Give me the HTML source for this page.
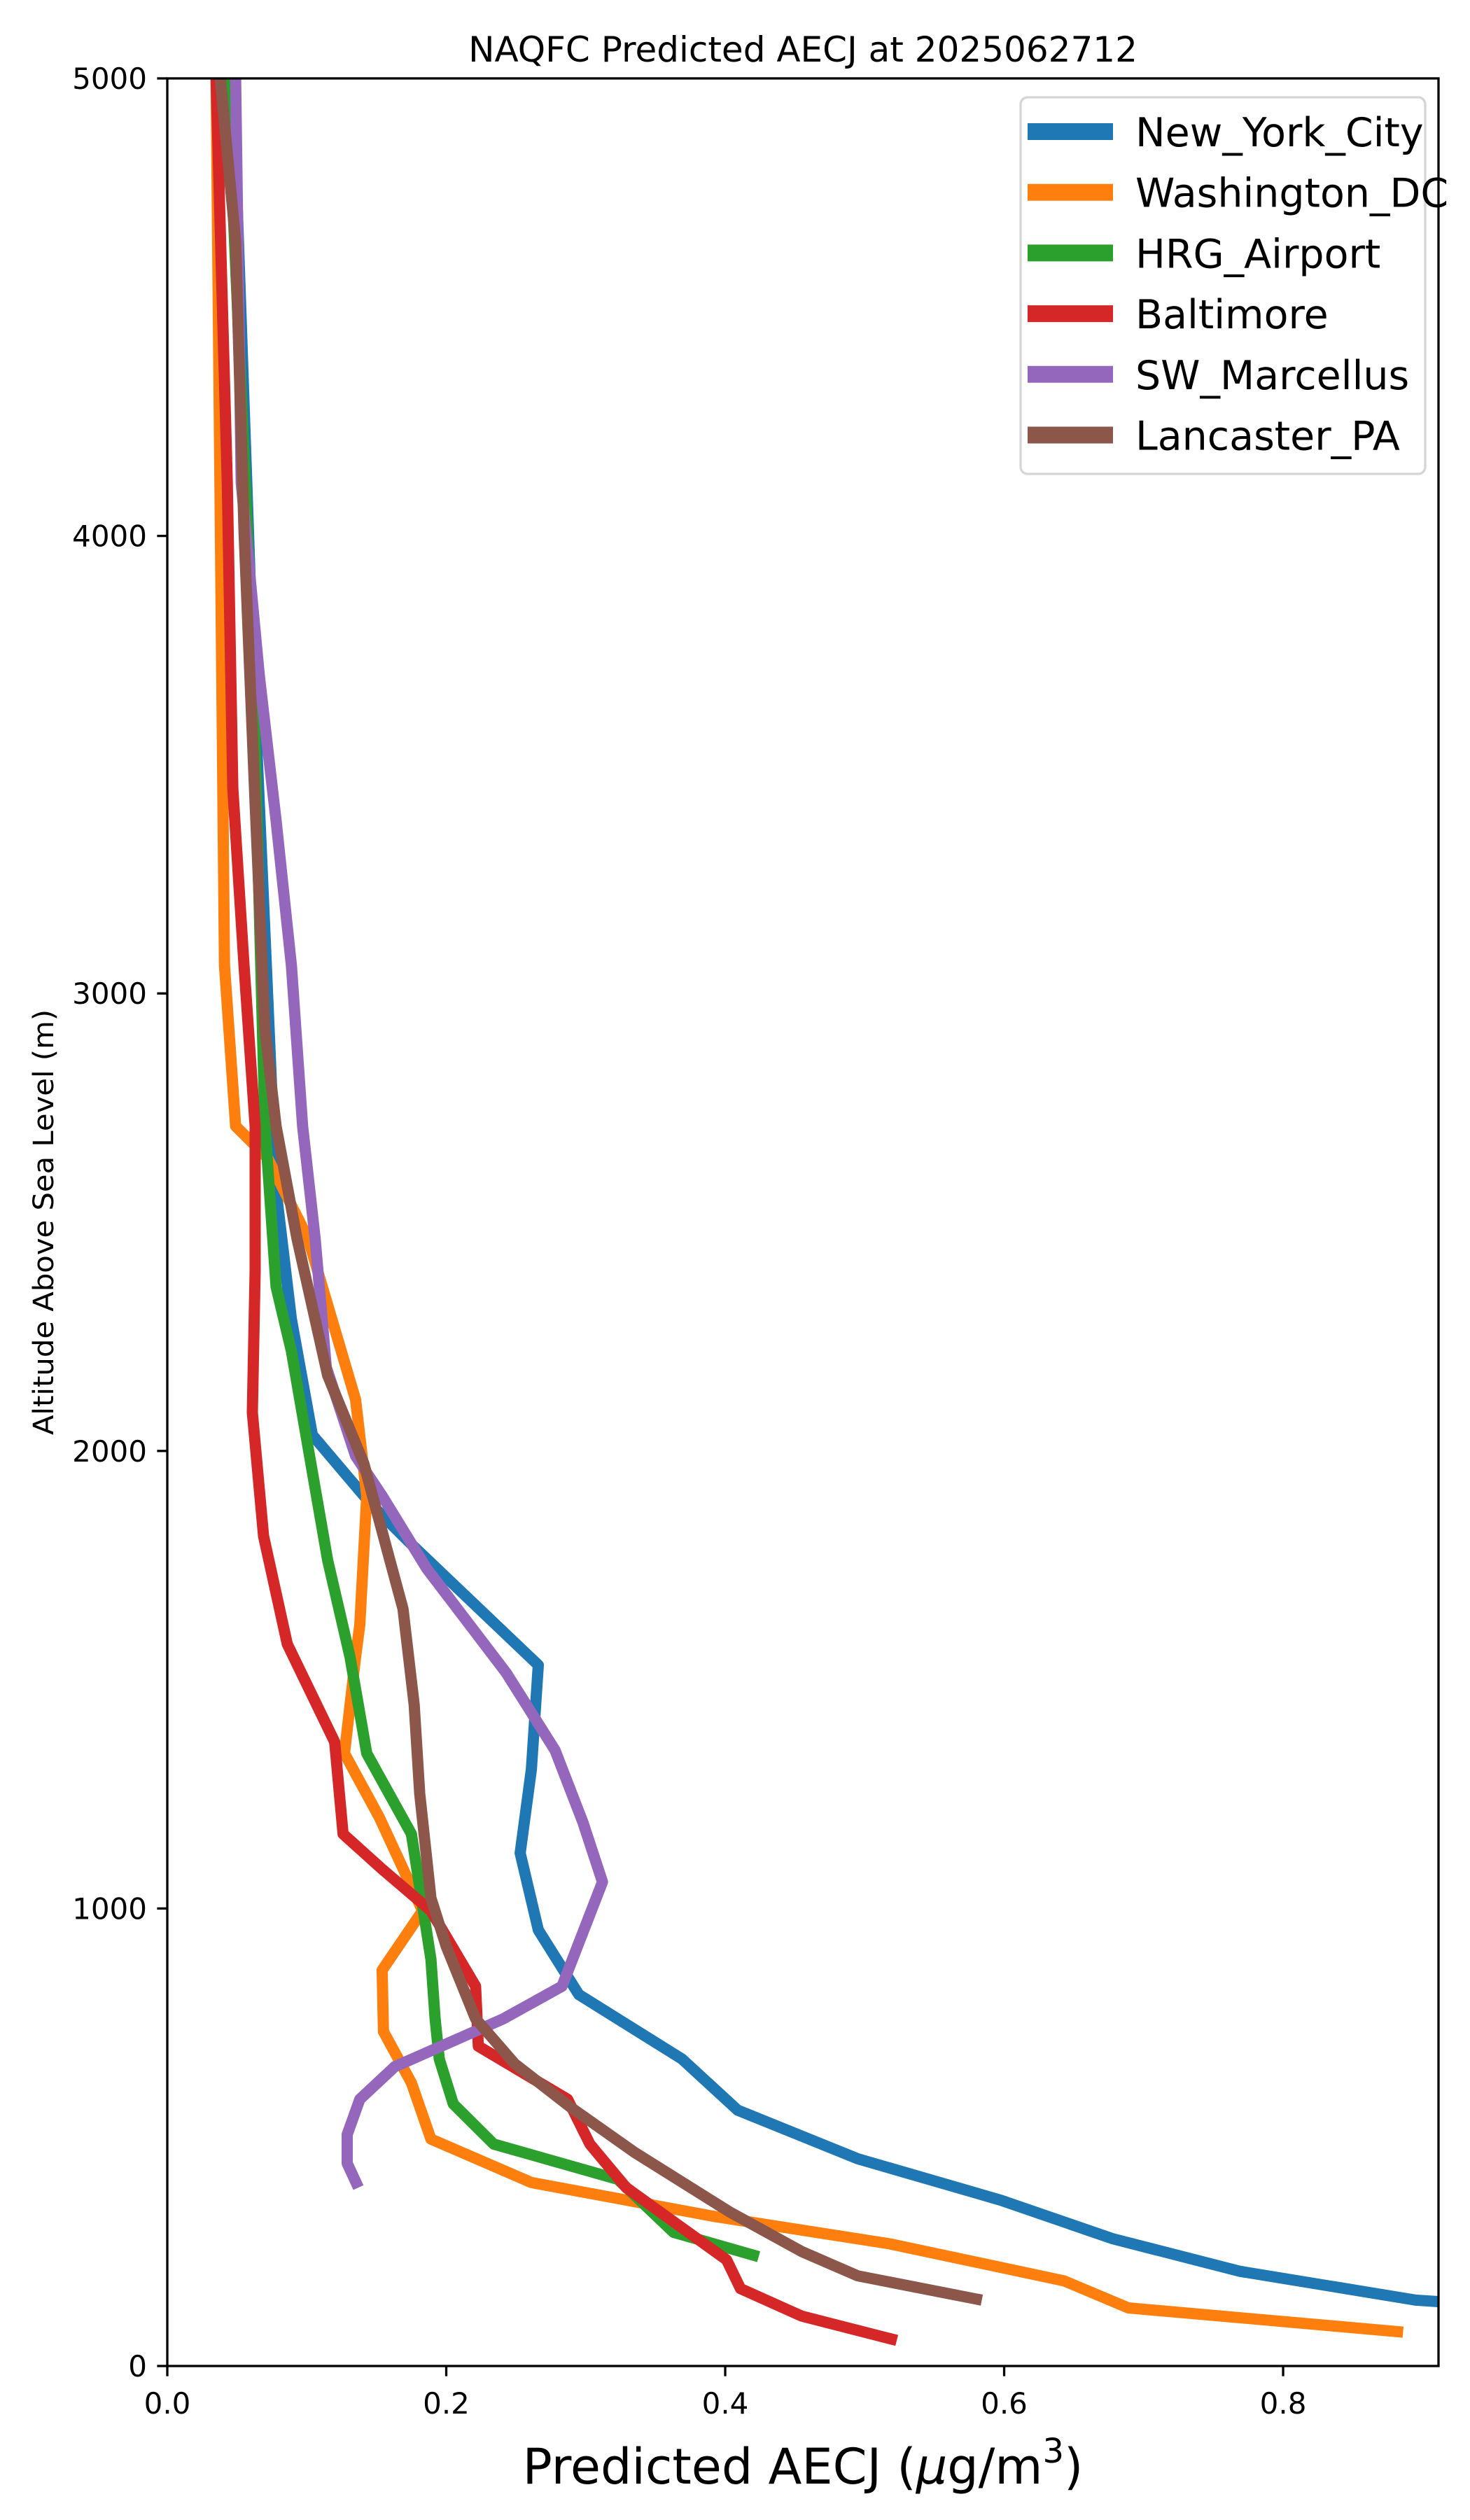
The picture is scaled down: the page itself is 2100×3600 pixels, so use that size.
<!DOCTYPE html>
<html><head><meta charset="utf-8"><style>
html,body{margin:0;padding:0;background:#fff}
svg{display:block;font-family:"DejaVu Sans","Liberation Sans",sans-serif}
</style></head><body>
<svg id="chart" xmlns="http://www.w3.org/2000/svg" width="2100" height="3600" viewBox="0 0 2100 3600">
<rect x="0" y="0" width="2100" height="3600" fill="#fff"/>
<defs><clipPath id="clip"><rect x="239" y="112" width="1816" height="3268"/></clipPath></defs>
<text x="1147" y="88" font-size="50" text-anchor="middle">NAQFC Predicted AECJ at 2025062712</text>
<g id="lines" clip-path="url(#clip)"></g>
<g id="axes"></g>
<text x="1147" y="3548" font-size="70" text-anchor="middle">Predicted AECJ (<tspan font-style="italic">μ</tspan>g/m<tspan font-size="48" dy="-30">3</tspan><tspan dy="30">)</tspan></text>
<text transform="translate(76,1746) rotate(-90)" font-size="40" text-anchor="middle" textLength="608" lengthAdjust="spacingAndGlyphs">Altitude Above Sea Level (m)</text>
<g id="legend"></g>
</svg>
<script>
const names = ["New_York_City","Washington_DC","HRG_Airport","Baltimore","SW_Marcellus","Lancaster_PA"];
const colors = ["#1f77b4","#ff7f0e","#2ca02c","#d62728","#9467bd","#8c564b"];
const xTicks = [0.0,0.2,0.4,0.6,0.8];
const xTickLabels = ["0.0","0.2","0.4","0.6","0.8"];
const yTicks = [0,1000,2000,3000,4000,5000];
const yTickLabels = ["0","1000","2000","3000","4000","5000"];
const nycX = [0.047,0.061,0.072,0.078,0.089,0.104,0.146,0.175,0.266,0.261,0.253,0.266,0.295,0.369,0.409,0.495,0.598,0.678,0.769,0.895,0.93];
const nycY = [5000,3764,2991,2569,2288,2035,1884,1796,1532,1304,1121,953,812,671,559,453,362,278,207,144,137];
const dcX = [0.035,0.041,0.049,0.072,0.101,0.135,0.143,0.138,0.135,0.127,0.152,0.183,0.154,0.155,0.175,0.189,0.261,0.392,0.518,0.643,0.689,0.886];
const dcY = [5000,3061,2710,2640,2464,2112,1902,1620,1550,1339,1199,995,865,731,619,496,401,327,267,186,127,74];
const hrgX = [0.043,0.061,0.070,0.078,0.089,0.101,0.115,0.131,0.143,0.175,0.189,0.192,0.195,0.205,0.234,0.323,0.363,0.424];
const hrgY = [5000,3764,2710,2359,2218,2007,1761,1550,1339,1163,889,759,671,573,485,408,292,239];
const balX = [0.035,0.043,0.047,0.055,0.063,0.063,0.061,0.069,0.086,0.120,0.126,0.154,0.189,0.221,0.223,0.287,0.303,0.329,0.401,0.411,0.455,0.523];
const balY = [5000,4116,3448,3061,2710,2394,2084,1814,1578,1364,1163,1086,995,830,699,583,485,390,232,169,109,56];
const swmX = [0.049,0.053,0.066,0.078,0.089,0.097,0.106,0.114,0.135,0.154,0.186,0.243,0.278,0.298,0.312,0.283,0.241,0.163,0.138,0.129,0.129,0.137];
const swmY = [5000,4116,3694,3378,3061,2710,2464,2183,1989,1902,1743,1515,1346,1188,1058,830,759,654,583,506,443,390];
const lanX = [0.038,0.049,0.055,0.063,0.070,0.078,0.093,0.115,0.141,0.158,0.169,0.177,0.181,0.189,0.200,0.221,0.249,0.289,0.335,0.403,0.455,0.495,0.584];
const lanY = [5000,4643,4011,3413,2921,2710,2464,2165,1972,1779,1655,1445,1251,1023,917,759,661,566,467,337,250,197,144];

const seriesX = [nycX,dcX,hrgX,balX,swmX,lanX];
const seriesY = [nycY,dcY,hrgY,balY,swmY,lanY];
const NS = "http://www.w3.org/2000/svg";
const L = 239, R = 2055, T = 112, B = 3380, XMAX = 0.9114, YMAX = 5000;
function sx(v){ return L + v / XMAX * (R - L); }
function sy(v){ return B - v / YMAX * (B - T); }
function mk(tag, attrs, parent){ const e = document.createElementNS(NS, tag); for (const k in attrs) e.setAttribute(k, attrs[k]); parent.appendChild(e); return e; }

const lines = document.getElementById('lines');
for (let s = 0; s < names.length; s++) {
  const pts = seriesX[s].map((x, i) => sx(x).toFixed(1) + ',' + sy(seriesY[s][i]).toFixed(1)).join(' ');
  const pl = mk('polyline', {points: pts, fill: 'none', stroke: colors[s], 'stroke-width': 16, 'stroke-linejoin': 'round', 'stroke-linecap': 'butt'}, lines);
  
  
}

const axes = document.getElementById('axes');
const frame = mk('rect', {x: L, y: T, width: R - L, height: B - T, fill: 'none', stroke: '#000', 'stroke-width': 3.3}, axes);


xTicks.forEach((v, i) => {
  const x = sx(v);
  const t = mk('line', {x1: x, y1: B, x2: x, y2: B + 14.6, stroke: '#000', 'stroke-width': 3.3}, axes);
  
  
  const lb = mk('text', {x: x, y: B + 68, 'font-size': 42, 'text-anchor': 'middle'}, axes);
  lb.textContent = xTickLabels[i];
  
  
});
yTicks.forEach((v, i) => {
  const y = sy(v);
  const t = mk('line', {x1: L - 14.6, y1: y, x2: L, y2: y, stroke: '#000', 'stroke-width': 3.3}, axes);
  
  
  const lb = mk('text', {x: L - 29, y: y + 15, 'font-size': 42, 'text-anchor': 'end'}, axes);
  lb.textContent = yTickLabels[i];
  
  
});

const legend = document.getElementById('legend');
const box = mk('rect', {x: 1458, y: 139, width: 578, height: 538, rx: 10, fill: '#fff', 'fill-opacity': 0.8, stroke: '#d6d6d6', 'stroke-width': 3.3}, legend);


names.forEach((n, i) => {
  const cy = 188 + i * 86.7;
  const h = mk('line', {x1: 1468, y1: cy, x2: 1590, y2: cy, stroke: colors[i], 'stroke-width': 24}, legend);
  
  
  const tx = mk('text', {x: 1622, y: cy + 21, 'font-size': 57}, legend);
  tx.textContent = n;
  
  
});
</script>
</body></html>
